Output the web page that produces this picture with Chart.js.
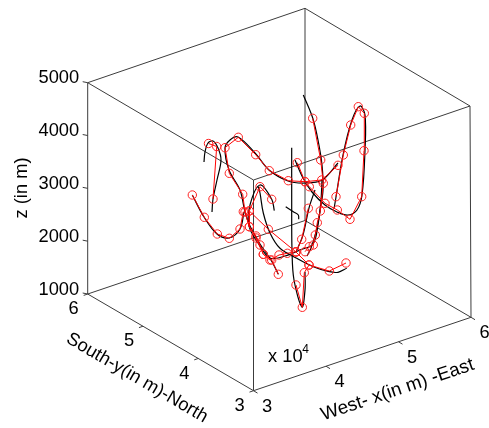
<!DOCTYPE html>
<html>
<head>
<meta charset="utf-8">
<title>tracks</title>
<script src="https://cdn.jsdelivr.net/npm/chart.js@4"></script>
<style>
    body { margin: 0; background: #fff; }
    canvas { display: block; }
</style>
</head>
<body>
<canvas id="tracks" width="489" height="428"></canvas>
<script>
// AXES
const xTicks = [3, 4, 5, 6];
const yTicks = [3, 4, 5, 6];
const zTicks = [1000, 2000, 3000, 4000, 5000];

// The depth of a point can't be read from a flat picture, so everything below
// is the [across, down] place of the point in the view plane of the 3D box.

// BOX CORNERS
const bottomFace = [[253.5, 390.7], [471, 317.3], [305, 220.5], [87.7, 294], [253.5, 390.7]];
const topFace = [[253.5, 180], [470, 106], [305, 8.3], [87.7, 82.7], [253.5, 180]];
const frontEdge = [[253.5, 390.7], [253.5, 180]];
const rightEdge = [[471, 317.3], [470, 106]];
const backEdge = [[305, 220.5], [305, 8.3]];
const leftEdge = [[87.7, 294], [87.7, 82.7]];

// TRUE PATHS (black)
const pathA = [[204, 162], [205, 152], [208, 143], [213, 141], [218, 148], [221, 160], [217, 180], [213, 199], [212, 212]];
const pathB = [[278.3, 274.3], [271, 260], [260, 244], [250, 226], [245, 212], [240, 190], [229, 170], [225, 148], [230, 140], [238, 137], [255, 153], [269, 170], [288, 181], [305, 183], [322, 180], [338, 163]];
const pathC = [[192.3, 195], [204, 217], [217, 234], [229, 238], [240, 229], [244, 212]];
const pathD = [[274.3, 210.7], [271.7, 199.3], [260, 185], [250, 205], [249, 226], [258, 243], [270, 258], [285, 256], [300, 250], [313, 244], [318, 225], [321, 200], [322, 180]];
const pathE = [[303.3, 95], [312.7, 118], [318, 140], [322, 165], [323, 190], [320, 211], [316, 232], [311, 248], [307, 256]];
const pathF = [[295, 160], [303, 178], [312, 192], [325, 205], [337, 212], [348, 215], [357, 210], [362, 195], [365, 150], [365, 115], [360, 106], [352, 120], [343, 155], [336, 197], [334, 209]];
const pathG = [[291.7, 147.7], [291.7, 200], [292, 250], [294, 280], [302, 307], [305, 290], [305, 272]];
const pathH = [[258.3, 186.7], [260, 193], [263.3, 213], [270, 233], [280, 248.3], [296.7, 258.3], [313.3, 266.7], [329.3, 271.7], [338, 272.3], [346.7, 268.3]];
const pathI = [[296, 252], [303, 235], [309, 208], [315, 190]];
const pathJ = [[285.7, 206.7], [293.3, 211.7], [298.3, 215], [298.7, 219.3]];

// MEASURED POINTS (red circles)
const measA = [[208.5, 143.5], [216.7, 146.5], [213, 199]];
const measB = [[278.3, 274.3], [271.7, 260], [263.3, 254.3], [260, 245], [256, 236], [249.3, 226.7], [245, 212], [242.7, 194.3], [229.3, 173.3], [225, 147.7], [238.3, 137.3], [255.7, 154.7], [269.3, 170.7], [288.3, 180.7], [305, 181.7], [321.7, 180], [338, 165.3]];
const measC = [[192.3, 195], [204.3, 217.3], [217.3, 234], [229.3, 238.3], [240, 229], [243.3, 211.7]];
const measD = [[271.7, 199.3], [260, 186.7], [249.3, 211], [249.3, 226.7], [256, 238], [263.3, 254.3], [270, 260], [279, 255], [287.3, 253.3], [295.7, 251.7]];
const measE = [[312.7, 118.3], [320.7, 160], [323.3, 183.3], [320.3, 211], [317.3, 222.7], [315.3, 235], [313.3, 245], [309.3, 246.7], [305, 251.7]];
const measF = [[297.3, 162.7], [305, 181.7], [309.3, 186.7], [325, 203.3], [337.3, 210], [350, 219.3], [361.7, 196.7], [364, 150.7], [364.3, 113.3], [358.3, 106.7], [350.7, 125], [343.3, 155], [336, 196.7]];
const measG = [[296, 285], [302.3, 307.3], [304.3, 272.7], [309, 265]];
const measH = [[346, 263], [329.3, 271], [309, 265], [296, 252], [268.3, 229.3], [249.3, 211]];
const measI = [[296, 252], [301.7, 239.3], [308.3, 208.3]];

const boxLines = [bottomFace, topFace, frontEdge, rightEdge, backEdge, leftEdge];
const truePaths = [pathA, pathB, pathC, pathD, pathE, pathF, pathG, pathH, pathI, pathJ];
const measured = [measA, measB, measC, measD, measE, measF, measG, measH, measI];

function toPoints(list) {
    return list.map(p => ({ x: p[0], y: p[1] }));
}

// place of a tick along a box edge
function alongEdge(from, to, t) {
    return [from[0] + (to[0] - from[0]) * t, from[1] + (to[1] - from[1]) * t];
}

const xTickAt = xTicks.map(v => alongEdge(bottomFace[0], bottomFace[1], (v - 3) / 3));
const yTickAt = yTicks.map(v => alongEdge(bottomFace[0], bottomFace[3], (v - 3) / 3));
const zTickAt = zTicks.map(v => alongEdge(leftEdge[0], leftEdge[1], (v - 1000) / 4000));

const datasets = [];

function addLine(list, color, width, tension, order) {
    datasets.push({
        data: toPoints(list),
        showLine: true,
        borderColor: color,
        borderWidth: width,
        pointRadius: 0,
        tension: tension,
        order: order
    });
}

boxLines.forEach(l => addLine(l, '#3c3c3c', 1, 0, 4));
xTickAt.forEach(p => addLine([p, [p[0] + 4, p[1] + 2.4]], '#3c3c3c', 1, 0, 4));
yTickAt.forEach(p => addLine([p, [p[0] - 4, p[1] + 1.4]], '#3c3c3c', 1, 0, 4));
zTickAt.forEach(p => addLine([p, [p[0] - 5, p[1] - 1]], '#3c3c3c', 1, 0, 4));
truePaths.forEach(l => addLine(l, '#000', 1.2, 0.35, 3));
measured.forEach(l => {
    datasets.push({
        data: toPoints(l),
        showLine: true,
        borderColor: '#f00',
        borderWidth: 1,
        pointRadius: 4.2,
        pointBorderColor: '#f22',
        pointBorderWidth: 1,
        pointBackgroundColor: 'transparent',
        tension: 0,
        order: 2
    });
});

const FONT = '18.3px "Liberation Sans", Arial, sans-serif';

const textPlugin = {
    id: 'boxText',
    afterDraw(chart) {
        const c = chart.ctx;
        const sx = chart.scales.x;
        const sy = chart.scales.y;

        function put(str, px, py, angle, align, font) {
            c.save();
            c.translate(sx.getPixelForValue(px), sy.getPixelForValue(py));
            c.rotate(angle * Math.PI / 180);
            c.font = font || FONT;
            c.fillStyle = '#000';
            c.textAlign = align || 'center';
            c.textBaseline = 'middle';
            c.fillText(str, 0, 0);
            c.restore();
        }

        xTicks.forEach((v, i) => put(String(v), xTickAt[i][0] + 13.5, xTickAt[i][1] + 16));
        yTicks.forEach((v, i) => put(String(v), yTickAt[i][0] - 14, yTickAt[i][1] + 15));
        zTicks.forEach((v, i) => put(String(v), zTickAt[i][0] - 8.5, zTickAt[i][1] - 4.5, 0, 'right'));

        put('z (in m)', 22, 188, -90);
        put('South-y(in m)-North', 137, 378, 30.3);
        put('West- x(in m) -East', 397.5, 390, -18.7, 'center', '18.8px "Liberation Sans", Arial, sans-serif');
        put('x 10', 268, 357, 0, 'left');
        put('4', 305.7, 350, 0, 'center', '12px "Liberation Sans", Arial, sans-serif');
    }
};

const ctx = document.getElementById('tracks').getContext('2d');
const tracksChart = new Chart(ctx, {
    type: 'scatter',
    data: { datasets: datasets },
    options: {
        responsive: false,
        animation: false,
        layout: { padding: 0, autoPadding: false },
        plugins: { legend: { display: false }, tooltip: { enabled: false } },
        scales: {
            x: { type: 'linear', min: 0, max: 489, display: false },
            y: { type: 'linear', min: 0, max: 428, reverse: true, display: false }
        }
    },
    plugins: [textPlugin]
});
</script>
</body>
</html>
